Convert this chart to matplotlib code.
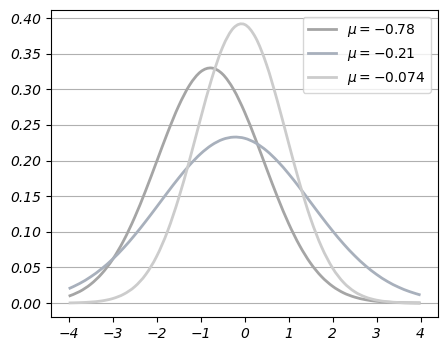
import matplotlib
matplotlib.use("Agg")
import matplotlib.pyplot as plt
from matplotlib.path import Path
from matplotlib.patches import PathPatch
from matplotlib.lines import Line2D
import numpy as np

# x grid (step 0.25)
x = np.arange(-4, 4.001, 0.25)

labels = [r"$\mu = -0.78$", r"$\mu = -0.21$", r"$\mu = -0.074$"]
colors = ["#a5a5a5", "#a8b0bc", "#cccccc"]

# curve values
y_a = [0.0096, 0.0162, 0.0264, 0.0411, 0.0613, 0.0877, 0.1202, 0.1578,
       0.1985, 0.2393, 0.2765, 0.3060, 0.3246, 0.3299, 0.3213, 0.2998,
       0.2681, 0.2297, 0.1886, 0.1484, 0.1118, 0.0808, 0.0559, 0.0371,
       0.0236, 0.0143, 0.0084, 0.0047, 0.0025, 0.0013, 0.0006, 0.0003,
       0.0001]
y_b = [0.0201, 0.0275, 0.0368, 0.0482, 0.0617, 0.0775, 0.0953, 0.1146,
       0.1349, 0.1555, 0.1754, 0.1937, 0.2095, 0.2217, 0.2297, 0.2329,
       0.2313, 0.2247, 0.2138, 0.1991, 0.1815, 0.1620, 0.1415, 0.1210,
       0.1013, 0.0830, 0.0666, 0.0523, 0.0402, 0.0302, 0.0223, 0.0161,
       0.0113]
y_c = [0.0002, 0.0006, 0.0014, 0.0030, 0.0063, 0.0124, 0.0229, 0.0399,
       0.0655, 0.1011, 0.1470, 0.2011, 0.2592, 0.3144, 0.3591, 0.3862,
       0.3910, 0.3726, 0.3344, 0.2825, 0.2247, 0.1683, 0.1186, 0.0788,
       0.0492, 0.0289, 0.0160, 0.0084, 0.0041, 0.0019, 0.0008, 0.0003,
       0.0001]


def smooth_path(xs, ys):
    # draw through the points with cubic bezier segments (catmull-rom)
    p = np.column_stack([xs, ys])
    p = np.vstack([p[:1], p, p[-1:]])
    verts = [p[1]]
    codes = [Path.MOVETO]
    for i in range(1, len(p) - 2):
        c1 = p[i] + (p[i + 1] - p[i - 1]) / 6
        c2 = p[i + 1] - (p[i + 2] - p[i]) / 6
        verts += [c1, c2, p[i + 1]]
        codes += [Path.CURVE4] * 3
    return Path(verts, codes)


fig = plt.figure(figsize=(4.48, 3.51), dpi=100)
ax = fig.add_axes([0.114, 0.097, 0.864, 0.875])

handles = []
for ys, lab, col in zip([y_a, y_b, y_c], labels, colors):
    ax.add_patch(PathPatch(smooth_path(x, ys), fill=False, edgecolor=col, lw=2))
    ax.update_datalim(np.column_stack([x, ys]))
    handles.append(Line2D([], [], color=col, lw=2, label=lab))
ax.autoscale_view()

ax.set_xticks(np.arange(-4, 5, 1))
ax.set_yticks(np.arange(0, 0.41, 0.05))
ax.yaxis.grid(True, color="#b0b0b0", lw=0.8)
ax.set_axisbelow(True)
for t in ax.get_xticklabels() + ax.get_yticklabels():
    t.set_fontstyle("italic")
ax.legend(handles=handles, loc="upper right")

fig.savefig("out.png", dpi=100)
